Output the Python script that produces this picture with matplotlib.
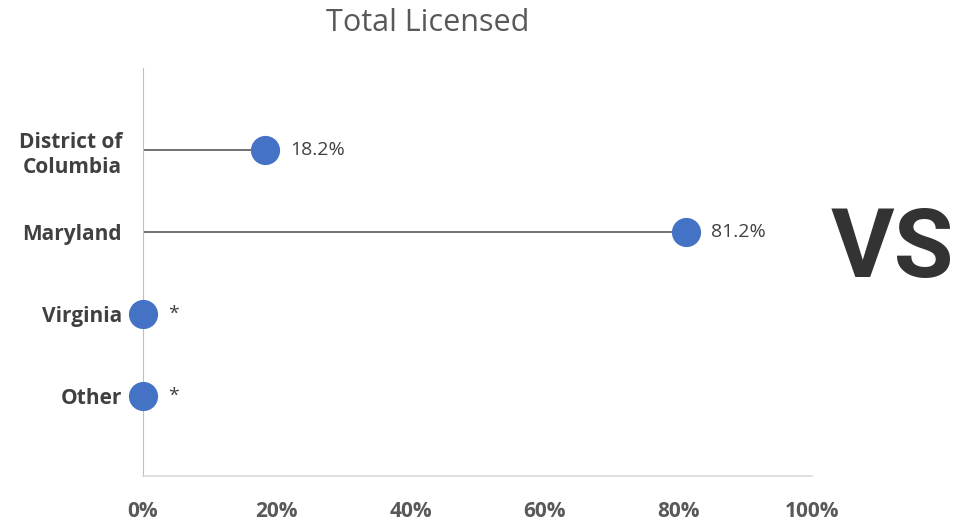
import matplotlib.pyplot as plt
from matplotlib.ticker import FuncFormatter

categories = ["Other", "Virginia", "Maryland", "District of\nColumbia"]
values = [0.0, 0.0, 81.2, 18.2]
labels = ["*", "*", "81.2%", "18.2%"]
x_ticks = [0, 20, 40, 60, 80, 100]

BLUE = "#4472C4"
GRAY = "#595959"

plt.rcParams["font.family"] = ["Open Sans", "DejaVu Sans"]

fig = plt.figure(figsize=(9.59, 5.24), dpi=100)
ax = fig.add_axes([0.149, 0.0916, 0.698, 0.778])

ypos = list(range(len(categories)))
for y, v, lab in zip(ypos, values, labels):
    ax.plot([0, v], [y, y], color=GRAY, lw=1.2, zorder=2)
    ax.plot(v, y, "o", ms=20, color=BLUE, zorder=3, clip_on=False)
    ax.annotate(lab, (v, y), xytext=(18, 0), textcoords="offset points",
                va="center", ha="left", fontsize=14, color="#404040")

ax.set_xlim(0, 100)
ax.set_ylim(-0.98, 4.0)
ax.set_xticks(x_ticks)
ax.xaxis.set_major_formatter(FuncFormatter(lambda v, p: f"{v:.0f}%"))
ax.set_yticks(ypos)
ax.set_yticklabels(categories, linespacing=1.3)
ax.tick_params(length=0)
ax.tick_params(axis="x", pad=18, labelsize=15, labelcolor=GRAY)
ax.tick_params(axis="y", pad=15, labelsize=15, labelcolor="#404040")
for t in ax.get_xticklabels() + ax.get_yticklabels():
    t.set_fontweight("bold")

for s in ["top", "right"]:
    ax.spines[s].set_visible(False)
ax.spines["left"].set_color("#BFBFBF")
ax.spines["bottom"].set_color("#D9D9D9")
ax.spines["bottom"].set_linewidth(1.2)

fig.text(0.446, 0.957, "Total Licensed", ha="center", va="center",
         fontsize=22, color=GRAY)
fig.text(0.866, 0.521, "VS", ha="left", va="center", fontsize=70,
         fontweight="bold", color="#333333", family=["Roboto", "DejaVu Sans"])

fig.savefig("out.png", dpi=100)
